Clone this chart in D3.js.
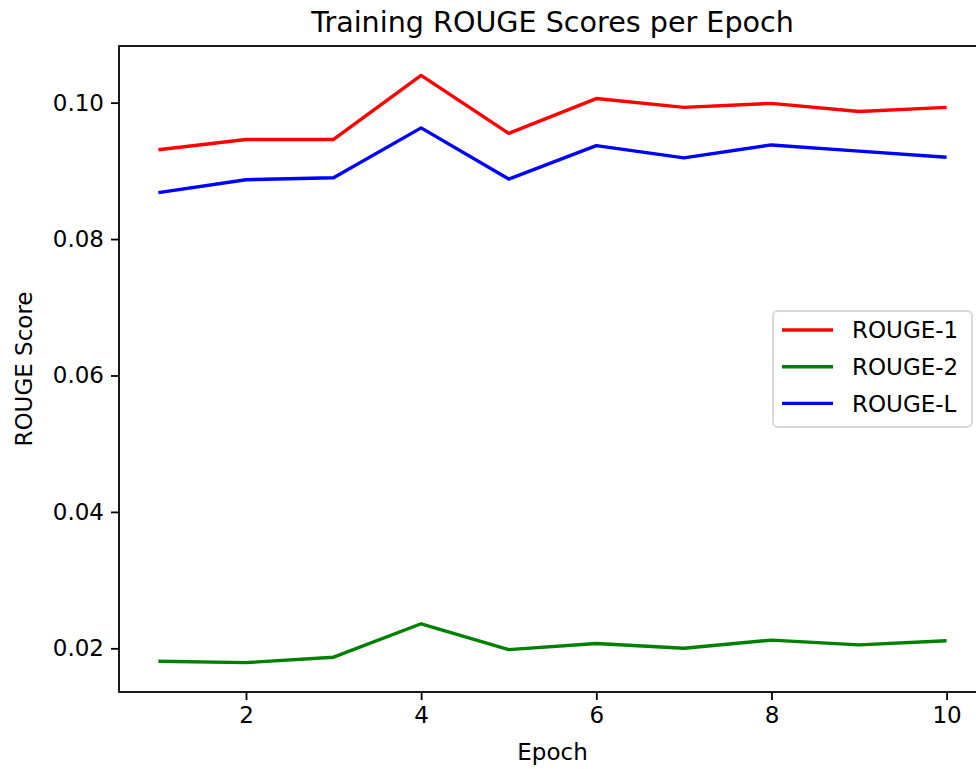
<!DOCTYPE html>
<html>
<head>
<meta charset="utf-8">
<script src="https://cdn.jsdelivr.net/npm/d3@7"></script>
<style>
  body { margin: 0; background: #fff; }
  text { font-family: "DejaVu Sans", sans-serif; fill: #000; }
</style>
</head>
<body>
<div id="chart"></div>
<script>
const epochs = [1, 2, 3, 4, 5, 6, 7, 8, 9, 10];
const rouge1 = [0.0931, 0.0946, 0.0946, 0.1040, 0.0955, 0.1006, 0.0993, 0.0999, 0.0987, 0.0993];
const rouge2 = [0.0181, 0.0179, 0.0187, 0.0236, 0.0198, 0.0207, 0.0200, 0.0212, 0.0205, 0.0211];
const rougeL = [0.0868, 0.0887, 0.0890, 0.0963, 0.0888, 0.0937, 0.0919, 0.0938, 0.0929, 0.0920];
const xTicks = [2, 4, 6, 8, 10];
const yTicks = [0.02, 0.04, 0.06, 0.08, 0.10];

const series = [
    { name: "ROUGE-1", color: "#ff0000", values: rouge1 },
    { name: "ROUGE-2", color: "#008000", values: rouge2 },
    { name: "ROUGE-L", color: "#0000ff", values: rougeL }
];

const W = 976, H = 769;
const margin = { top: 46, left: 119, bottom: 77, right: -10 };
const width = W - margin.left - margin.right;
const height = H - margin.top - margin.bottom;

const svg = d3.select("#chart").append("svg").attr("width", W).attr("height", H);
const g = svg.append("g").attr("transform", `translate(${margin.left},${margin.top})`);

// matplotlib style 5% padding
const xExt = d3.extent(epochs);
const xPad = (xExt[1] - xExt[0]) * 0.05;
const x = d3.scaleLinear().domain([xExt[0] - xPad, xExt[1] + xPad]).range([0, width]);

const all = rouge1.concat(rouge2, rougeL);
const yExt = d3.extent(all);
const yPad = (yExt[1] - yExt[0]) * 0.05;
const y = d3.scaleLinear().domain([yExt[0] - yPad, yExt[1] + yPad]).range([height, 0]);

const fs = 23;

const xAxis = d3.axisBottom(x).tickValues(xTicks).tickFormat(d3.format("d")).tickSizeInner(8).tickSizeOuter(0).tickPadding(7);
const yAxis = d3.axisLeft(y).tickValues(yTicks).tickFormat(d3.format(".2f")).tickSizeInner(8).tickSizeOuter(0).tickPadding(7);

const gx = g.append("g").attr("transform", `translate(0,${height})`).call(xAxis);
const gy = g.append("g").call(yAxis);
[gx, gy].forEach(a => {
    a.select(".domain").remove();
    a.selectAll(".tick line").attr("stroke", "#000").attr("stroke-width", 1.8);
    a.selectAll(".tick text").style("font-size", fs + "px").attr("fill", "#000");
});

// lines
const line = d3.line().x((d, i) => x(epochs[i])).y(d => y(d));
g.selectAll("path.series")
    .data(series)
    .join("path")
    .attr("class", "series")
    .attr("fill", "none")
    .attr("stroke", d => d.color)
    .attr("stroke-width", 3.4)
    .attr("stroke-linejoin", "round")
    .attr("d", d => line(d.values));

// spines
g.append("rect")
    .attr("x", 0).attr("y", 0)
    .attr("width", width).attr("height", height)
    .attr("fill", "none").attr("stroke", "#000").attr("stroke-width", 1.8);

// title & labels
svg.append("text")
    .attr("x", margin.left + width / 2).attr("y", 32)
    .attr("text-anchor", "middle")
    .style("font-size", "28.6px")
    .text("Training ROUGE Scores per Epoch");

svg.append("text")
    .attr("x", margin.left + width / 2).attr("y", 760)
    .attr("text-anchor", "middle")
    .style("font-size", fs + "px")
    .text("Epoch");

svg.append("text")
    .attr("transform", `translate(32,${margin.top + height / 2}) rotate(-90)`)
    .attr("text-anchor", "middle")
    .style("font-size", fs + "px")
    .text("ROUGE Score");

// legend
const leg = svg.append("g").attr("transform", "translate(773,311)");
leg.append("rect")
    .attr("width", 199).attr("height", 116)
    .attr("rx", 5)
    .attr("fill", "#fff").attr("fill-opacity", 0.8)
    .attr("stroke", "#d6d6d6").attr("stroke-width", 1.8);

const item = leg.selectAll("g.item")
    .data(series)
    .join("g")
    .attr("class", "item")
    .attr("transform", (d, i) => `translate(0,${19 + i * 36.7})`);
item.append("line")
    .attr("x1", 9).attr("x2", 60)
    .attr("stroke", d => d.color).attr("stroke-width", 3.4);
item.append("text")
    .attr("x", 79).attr("dy", "0.36em")
    .style("font-size", fs + "px")
    .text(d => d.name);
</script>
</body>
</html>
